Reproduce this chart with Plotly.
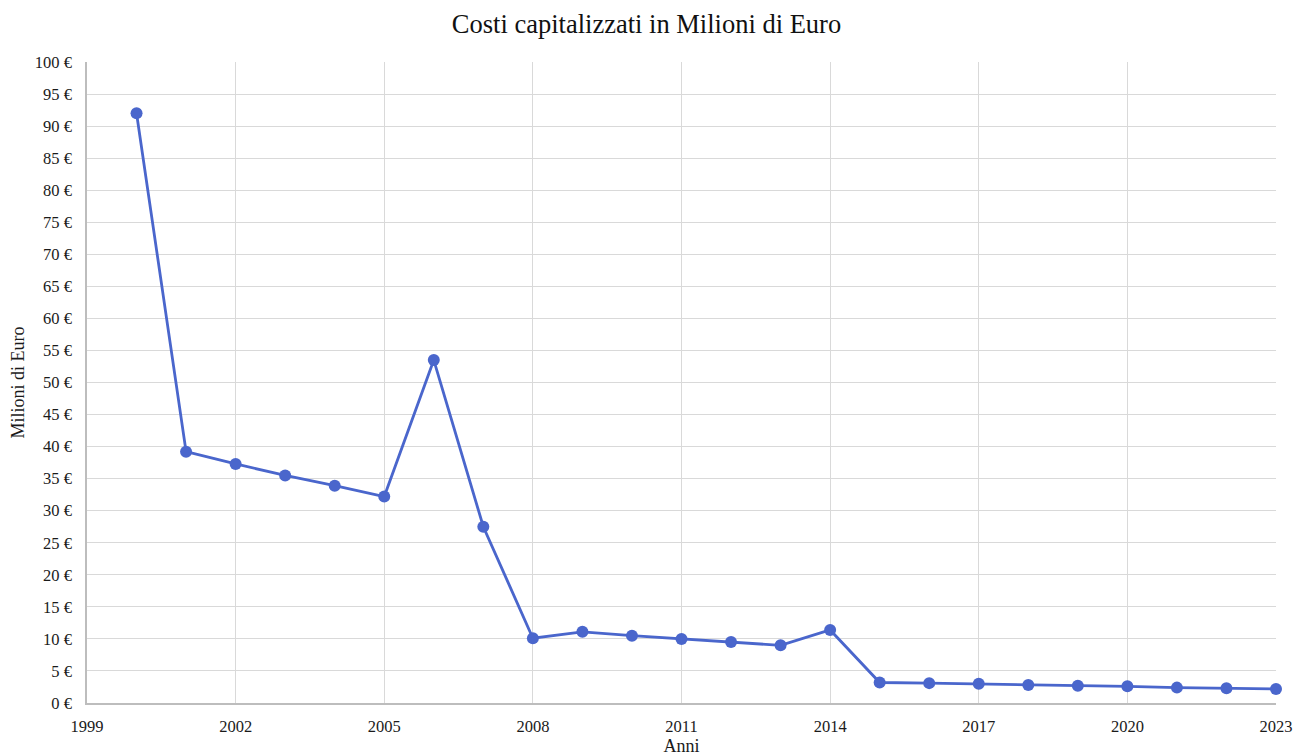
import plotly.graph_objects as go

# Capitalised costs per year, millions of euro
anni = list(range(2000, 2024))
costi = [92.0, 39.2, 37.3, 35.5, 33.9, 32.2, 53.5, 27.5, 10.1, 11.1, 10.5, 10.0,
         9.5, 9.0, 11.4, 3.2, 3.1, 3.0, 2.8, 2.7, 2.6, 2.4, 2.3, 2.2]

x_ticks = list(range(1999, 2024, 3))
y_ticks = list(range(0, 101, 5))
y_labels = [f"{v} €" for v in y_ticks]

font_family = "Liberation Serif, Times New Roman, serif"
line_color = "#4a66cc"

fig = go.Figure(
    go.Scatter(
        x=anni,
        y=costi,
        mode="lines+markers",
        line=dict(color=line_color, width=2.8),
        marker=dict(color=line_color, size=12),
        cliponaxis=False,
        showlegend=False,
    )
)

fig.update_layout(
    width=1293,
    height=756,
    margin=dict(l=87, r=17, t=62, b=53),
    paper_bgcolor="white",
    plot_bgcolor="white",
    font=dict(family=font_family, color="#1a1a1a", size=16),
    title=dict(
        text="Costi capitalizzati in Milioni di Euro",
        x=0.5,
        xanchor="center",
        y=0.968,
        yanchor="middle",
        font=dict(family=font_family, size=26.5, color="#111111"),
    ),
)

fig.update_xaxes(
    range=[1999, 2023],
    tickvals=x_ticks,
    ticktext=[str(v) for v in x_ticks],
    showgrid=True,
    gridcolor="#d9d9d9",
    gridwidth=1,
    showline=True,
    linecolor="#bdbdbd",
    linewidth=1.5,
    zeroline=False,
    ticks="",
    automargin=False,
    ticklabelstandoff=7,
    tickfont=dict(size=16.5),
    title=dict(text="Anni", font=dict(size=18), standoff=4),
)

fig.update_yaxes(
    range=[0, 100],
    tickvals=y_ticks,
    ticktext=y_labels,
    showgrid=True,
    gridcolor="#d9d9d9",
    gridwidth=1,
    showline=True,
    linecolor="#bdbdbd",
    linewidth=1.5,
    zeroline=False,
    ticks="",
    automargin=False,
    ticklabelstandoff=10,
    tickfont=dict(size=16.5),
    title=dict(text="Milioni di Euro", font=dict(size=18), standoff=6),
)

fig.write_html("out.html")
